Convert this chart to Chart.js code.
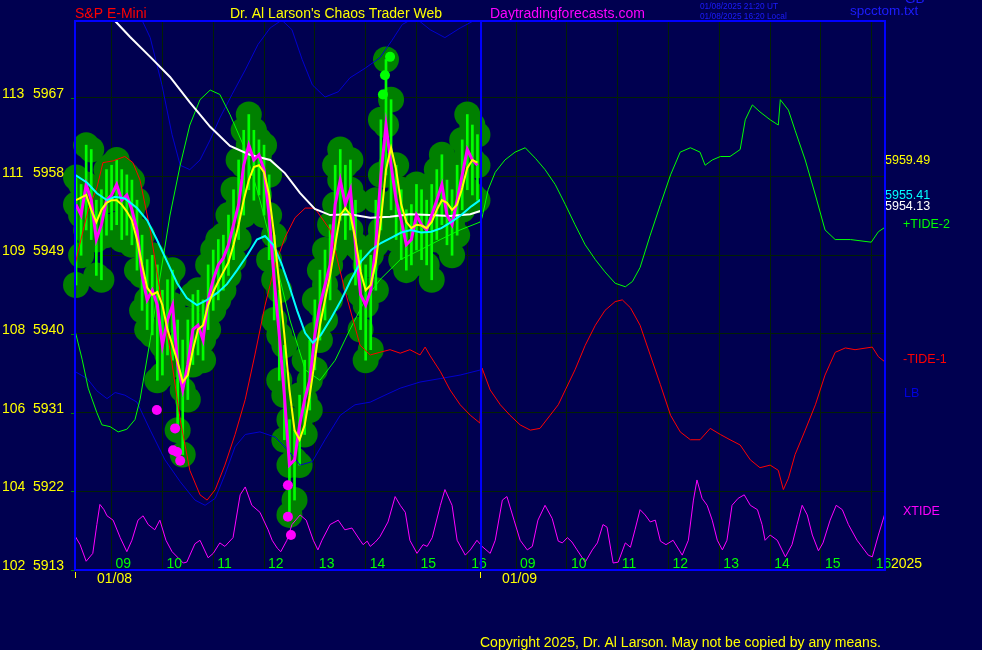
<!DOCTYPE html>
<html>
<head>
<meta charset="utf-8">
<script src="https://cdn.jsdelivr.net/npm/chart.js@4.4.1/dist/chart.umd.min.js"></script>
<style>
html, body { margin: 0; padding: 0; background: #000050; }
canvas { display: block; }
</style>
</head>
<body>
<canvas id="chart" width="982" height="650"></canvas>
<script>
// price axis and hour axis (day 2 hours are shifted onto one continuous axis)
const yTicks = [5913, 5922, 5931, 5940, 5949, 5958, 5967]
const yTickIndex = ["102", "104", "106", "108", "109", "111", "113"]
const dayHours = [9, 10, 11, 12, 13, 14, 15, 16]
const DAY2_SHIFT = 7.96

// 6 minute price bars, 01/08 from 08:18
const closes = [
    5954.8, 5953.6, 5957.1, 5955.3, 5950.8, 5952.5, 5955.3, 5955.9, 5957.1, 5955.3,
    5955.9, 5954.2, 5951.9, 5946.7, 5943.9, 5945.0, 5943.3, 5938.7, 5941.6, 5943.3,
    5936.5, 5933.6, 5936.5, 5940.5, 5941.0, 5939.3, 5943.9, 5946.2, 5947.9, 5948.7,
    5950.2, 5952.5, 5954.8, 5959.3, 5961.6, 5959.9, 5960.5, 5958.8, 5953.6, 5946.2,
    5939.9, 5933.0, 5925.0, 5925.6, 5929.6, 5932.5, 5934.7, 5939.9, 5943.3, 5945.6,
    5947.9, 5954.8, 5957.6, 5954.8, 5956.5, 5950.2, 5944.5, 5943.3, 5945.0, 5950.2,
    5958.2, 5963.9, 5959.3, 5955.3, 5953.0, 5950.2, 5950.8, 5953.6, 5952.5, 5951.9,
    5953.6, 5955.3, 5957.1, 5953.6, 5952.5, 5955.3, 5958.2, 5961.1, 5959.9, 5959.3
]
const highs = [
    5957.9, 5957.1, 5961.6, 5961.1, 5955.3, 5956.5, 5958.8, 5959.3, 5959.9, 5958.8,
    5958.2, 5957.6, 5955.3, 5951.3, 5948.5, 5949.0, 5947.9, 5945.0, 5946.2, 5947.3,
    5941.6, 5939.3, 5941.6, 5944.5, 5945.0, 5943.9, 5947.9, 5949.6, 5950.8, 5951.3,
    5953.6, 5956.5, 5959.9, 5963.3, 5965.1, 5963.3, 5962.2, 5961.6, 5958.2, 5951.3,
    5945.0, 5938.7, 5930.2, 5929.0, 5933.0, 5937.0, 5939.3, 5943.9, 5947.3, 5949.6,
    5952.5, 5959.3, 5961.1, 5959.3, 5959.9, 5955.3, 5949.6, 5947.9, 5949.0, 5955.3,
    5964.5, 5971.4, 5966.8, 5959.3, 5956.5, 5954.2, 5954.8, 5957.1, 5956.5, 5955.3,
    5957.1, 5958.8, 5960.5, 5957.6, 5956.5, 5959.3, 5962.2, 5965.1, 5963.9, 5962.8
]
const lows = [
    5945.6, 5949.0, 5951.9, 5950.8, 5946.7, 5946.2, 5951.3, 5951.9, 5952.5, 5950.8,
    5951.3, 5950.2, 5947.3, 5942.7, 5940.5, 5939.9, 5934.7, 5935.3, 5937.6, 5937.0,
    5929.0, 5926.2, 5932.5, 5936.5, 5937.6, 5937.0, 5940.5, 5942.7, 5943.9, 5945.0,
    5946.7, 5948.5, 5950.8, 5953.6, 5956.5, 5955.3, 5955.9, 5953.6, 5948.5, 5941.6,
    5934.7, 5927.9, 5919.3, 5921.0, 5925.0, 5928.5, 5931.3, 5935.9, 5939.3, 5941.6,
    5943.9, 5949.6, 5953.0, 5950.8, 5951.9, 5945.6, 5940.5, 5937.0, 5938.2, 5945.0,
    5951.9, 5958.2, 5954.2, 5950.8, 5948.5, 5947.3, 5947.9, 5949.6, 5948.5, 5947.9,
    5946.2, 5950.8, 5952.5, 5950.2, 5949.0, 5951.3, 5954.2, 5956.5, 5955.9, 5955.3
]
const yellowAvg = [
    5955.3, 5955.6, 5955.9, 5954.2, 5952.8, 5954.2, 5955.0, 5955.3, 5955.3, 5954.8,
    5954.0, 5953.0, 5950.8, 5947.9, 5945.3, 5944.5, 5944.8, 5943.3, 5940.5, 5938.7,
    5936.8, 5934.5, 5935.3, 5938.2, 5940.5, 5941.0, 5943.3, 5944.8, 5946.0, 5947.1,
    5948.2, 5950.2, 5952.5, 5955.3, 5957.6, 5959.1, 5959.3, 5958.5, 5955.9, 5951.3,
    5945.6, 5939.9, 5933.6, 5929.0, 5927.9, 5929.6, 5933.0, 5937.0, 5941.0, 5943.9,
    5946.7, 5950.2, 5953.6, 5954.4, 5953.6, 5950.8, 5947.1, 5945.0, 5945.6, 5948.2,
    5953.0, 5958.8, 5961.3, 5958.8, 5954.8, 5952.8, 5952.1, 5952.5, 5952.4, 5952.1,
    5952.8, 5954.2, 5955.3, 5955.0, 5954.2, 5954.8, 5956.7, 5959.0, 5959.9, 5959.6
]
const barTimes = closes.map((c, i) => 8.3 + i * 0.1)

const cyanTimes = [8.28, 8.52, 8.71, 8.91, 9.07, 9.26, 9.50, 9.70, 9.89, 10.09, 10.29, 10.48, 10.68, 10.88, 11.08, 11.27, 11.47, 11.67, 11.86, 12.02, 12.18, 12.34, 12.49, 12.65, 12.81, 12.96, 13.12, 13.32, 13.52, 13.71, 13.91, 14.11, 14.30, 14.50, 14.70, 14.89, 15.09, 15.29, 15.49, 15.68, 15.88, 16.08, 16.27]
const cyanAvg = [5958.2, 5957.3, 5956.1, 5955.3, 5955.7, 5955.5, 5954.4, 5953.0, 5950.8, 5948.3, 5945.8, 5944.1, 5943.3, 5943.9, 5944.7, 5945.7, 5947.3, 5949.0, 5950.8, 5951.2, 5950.2, 5948.1, 5945.6, 5942.7, 5940.1, 5939.0, 5939.9, 5941.8, 5943.9, 5946.2, 5948.3, 5949.6, 5950.4, 5951.0, 5951.6, 5951.9, 5951.6, 5951.7, 5952.1, 5952.8, 5953.6, 5954.6, 5955.4]

const whiteTimes = [8.87, 9.07, 9.36, 9.76, 10.15, 10.54, 10.94, 11.33, 11.72, 12.12, 12.41, 12.71, 13.00, 13.30, 13.69, 14.09, 14.48, 14.87, 15.27, 15.66, 16.06, 16.27]
const whiteAvg = [5977.3, 5975.8, 5974.0, 5971.7, 5969.4, 5966.5, 5963.7, 5961.5, 5960.5, 5959.9, 5958.4, 5956.1, 5954.3, 5953.6, 5953.7, 5953.3, 5953.4, 5953.7, 5953.6, 5953.5, 5953.7, 5954.1]

const tide1Times = [8.28, 8.38, 8.54, 8.71, 8.83, 9.03, 9.26, 9.42, 9.56, 9.76, 9.95, 10.15, 10.35, 10.54, 10.74, 10.88, 11.04, 11.23, 11.43, 11.63, 11.82, 12.02, 12.22, 12.41, 12.61, 12.81, 13.00, 13.30, 13.59, 13.89, 14.09, 14.28, 14.48, 14.68, 14.87, 15.07, 15.17, 15.27, 15.47, 15.66, 15.86, 16.06, 16.25,
    16.29, 16.45, 16.65, 16.84, 17.04, 17.24, 17.43, 17.63, 17.79, 17.93, 18.12, 18.32, 18.52, 18.71, 18.91, 19.05, 19.21, 19.40, 19.60, 19.80, 20.00, 20.19, 20.39, 20.58, 20.78, 20.98, 21.17, 21.37, 21.57, 21.76, 21.96, 22.12, 22.22, 22.32, 22.45, 22.65, 22.85, 23.04, 23.24, 23.44, 23.63, 23.97, 24.09, 24.22]
const tide1 = [5947.9, 5950.4, 5954.2, 5956.7, 5959.6, 5959.8, 5960.3, 5959.6, 5957.6, 5951.9, 5945.0, 5938.2, 5930.2, 5924.4, 5921.6, 5921.0, 5922.2, 5925.0, 5928.5, 5932.5, 5937.6, 5943.3, 5947.9, 5951.0, 5953.3, 5954.4, 5954.4, 5951.9, 5945.0, 5938.7, 5937.6, 5937.9, 5938.2, 5937.8, 5938.2, 5937.6, 5938.5, 5937.5, 5935.7, 5933.6, 5931.9, 5930.7, 5929.8,
    5936.1, 5933.6, 5931.9, 5930.7, 5929.6, 5929.0, 5929.2, 5930.7, 5931.9, 5933.6, 5935.9, 5938.7, 5941.0, 5942.7, 5943.7, 5943.9, 5943.0, 5941.0, 5937.6, 5934.2, 5930.7, 5928.8, 5927.9, 5927.9, 5929.2, 5928.5, 5927.9, 5927.3, 5925.6, 5924.7, 5925.0, 5924.4, 5922.2, 5923.5, 5926.2, 5929.0, 5931.9, 5935.3, 5937.9, 5938.4, 5938.2, 5938.5, 5937.4, 5936.8]

const tide2Times = [8.28, 8.42, 8.54, 8.71, 8.81, 8.97, 9.13, 9.30, 9.46, 9.56, 9.76, 9.95, 10.15, 10.35, 10.54, 10.74, 10.94, 11.13, 11.33, 11.63, 11.92, 12.22, 12.51, 12.81, 13.10, 13.40, 13.69, 13.99, 14.28, 14.68, 15.07, 15.47, 15.86, 16.25,
    16.29, 16.41, 16.55, 16.74, 16.94, 17.14, 17.34, 17.53, 17.73, 17.93, 18.12, 18.32, 18.52, 18.71, 18.91, 19.11, 19.25, 19.40, 19.60, 19.80, 20.00, 20.19, 20.39, 20.58, 20.68, 20.82, 20.98, 21.17, 21.37, 21.47, 21.61, 21.76, 21.96, 22.12, 22.16, 22.32, 22.45, 22.65, 22.85, 23.04, 23.24, 23.54, 23.95, 24.09, 24.22]
const tide2 = [5940.4, 5937.1, 5933.8, 5931.0, 5929.6, 5929.4, 5928.8, 5929.1, 5930.2, 5932.5, 5939.3, 5946.4, 5953.6, 5959.3, 5963.9, 5966.8, 5967.9, 5967.4, 5965.1, 5961.1, 5955.3, 5948.5, 5941.6, 5935.9, 5934.7, 5937.0, 5940.5, 5943.9, 5946.2, 5948.5, 5949.6, 5950.8, 5951.9, 5952.8,
    5953.3, 5956.5, 5958.5, 5959.9, 5960.8, 5961.3, 5960.1, 5958.8, 5957.1, 5954.8, 5952.5, 5950.2, 5948.5, 5947.1, 5945.8, 5945.4, 5946.0, 5947.6, 5951.3, 5954.8, 5958.2, 5960.8, 5961.3, 5960.8, 5959.3, 5959.9, 5960.3, 5960.3, 5961.1, 5964.5, 5966.2, 5965.4, 5964.5, 5963.9, 5966.8, 5965.6, 5963.3, 5959.9, 5955.9, 5951.9, 5950.8, 5950.8, 5950.5, 5951.7, 5952.2]

const upperTimes = [9.46, 9.76, 9.99, 10.19, 10.35, 10.54, 10.74, 10.94, 11.13, 11.37, 11.63, 11.88, 12.12, 12.35, 12.55, 12.75, 12.95, 13.20, 13.46, 13.69, 13.99, 14.28, 14.52, 14.72, 14.97, 15.27, 15.56, 15.86, 16.15, 16.27]
const upperBand = [5977.6, 5973.9, 5968.5, 5962.8, 5959.3, 5958.8, 5959.9, 5962.2, 5964.7, 5967.4, 5970.2, 5973.1, 5975.0, 5975.9, 5974.8, 5971.4, 5968.5, 5967.1, 5967.7, 5969.3, 5970.4, 5971.6, 5973.6, 5975.4, 5976.2, 5974.8, 5973.9, 5975.0, 5975.9, 5976.2]
const lowerTimes = [8.28, 8.52, 8.71, 8.91, 9.07, 9.26, 9.50, 9.76, 10.05, 10.35, 10.64, 10.84, 11.04, 11.23, 11.43, 11.63, 11.92, 12.22, 12.47, 12.71, 12.95, 13.20, 13.50, 13.79, 14.09, 14.38, 14.68, 15.07, 15.47, 15.86, 16.27]
const lowerBand = [5935.7, 5934.9, 5933.5, 5932.6, 5933.3, 5933.0, 5932.2, 5929.0, 5925.6, 5923.1, 5921.0, 5920.4, 5921.2, 5923.9, 5927.1, 5928.5, 5928.8, 5928.2, 5926.7, 5925.0, 5925.4, 5927.9, 5930.7, 5931.9, 5932.2, 5933.0, 5933.8, 5934.5, 5934.9, 5935.3, 5935.9]

const xtideTimes = [8.28, 8.38, 8.50, 8.63, 8.71, 8.77, 8.85, 8.91, 9.03, 9.17, 9.30, 9.40, 9.52, 9.62, 9.72, 9.85, 9.95, 10.07, 10.19, 10.41, 10.48, 10.64, 10.74, 10.90, 11.00, 11.13, 11.23, 11.39, 11.53, 11.63, 11.76, 11.92, 12.08, 12.16, 12.26, 12.33, 12.45, 12.55, 12.71, 12.83, 12.97, 13.06, 13.14, 13.30, 13.46, 13.59, 13.73, 13.89, 13.95, 14.03, 14.09, 14.19, 14.28, 14.44, 14.58, 14.68, 14.78, 14.87, 15.01, 15.13, 15.21, 15.31, 15.47, 15.56, 15.70, 15.80, 15.96, 16.06, 16.19,
    16.29, 16.45, 16.55, 16.69, 16.78, 16.92, 17.04, 17.18, 17.28, 17.39, 17.53, 17.67, 17.79, 17.87, 17.97, 18.06, 18.16, 18.32, 18.46, 18.56, 18.67, 18.75, 18.87, 18.97, 19.11, 19.21, 19.30, 19.40, 19.50, 19.60, 19.70, 19.80, 19.91, 20.05, 20.23, 20.35, 20.45, 20.52, 20.62, 20.72, 20.82, 20.92, 21.02, 21.11, 21.21, 21.33, 21.45, 21.57, 21.71, 21.80, 21.86, 21.96, 22.10, 22.26, 22.39, 22.49, 22.59, 22.69, 22.79, 22.91, 23.00, 23.14, 23.26, 23.38, 23.50, 23.67, 23.89, 23.97, 24.09, 24.22]
const xtide = [5916.9, 5915.9, 5914.0, 5914.9, 5918.2, 5920.5, 5919.9, 5919.2, 5918.7, 5916.7, 5915.1, 5916.4, 5918.7, 5919.2, 5918.2, 5917.6, 5918.7, 5916.4, 5915.1, 5913.8, 5913.9, 5916.0, 5916.4, 5914.4, 5914.9, 5916.1, 5915.7, 5916.7, 5921.6, 5922.5, 5920.4, 5919.6, 5917.6, 5916.4, 5915.5, 5915.1, 5916.4, 5918.2, 5919.3, 5918.7, 5916.4, 5915.3, 5916.4, 5918.2, 5918.7, 5917.6, 5917.8, 5916.4, 5915.9, 5916.3, 5915.7, 5916.2, 5916.8, 5918.5, 5921.4, 5920.4, 5919.6, 5916.4, 5914.9, 5915.9, 5915.7, 5916.7, 5920.4, 5922.2, 5920.4, 5916.4, 5914.7, 5915.3, 5916.4,
    5915.7, 5914.9, 5916.4, 5921.0, 5921.4, 5918.7, 5916.4, 5915.3, 5915.7, 5918.7, 5920.4, 5918.9, 5916.3, 5916.1, 5916.7, 5916.2, 5915.3, 5913.9, 5915.3, 5916.1, 5918.2, 5917.9, 5913.8, 5913.9, 5916.1, 5915.6, 5917.6, 5919.9, 5919.3, 5918.5, 5918.7, 5916.3, 5915.9, 5916.4, 5914.7, 5916.4, 5921.0, 5923.3, 5921.2, 5920.4, 5918.7, 5916.4, 5915.3, 5916.4, 5920.4, 5921.2, 5921.6, 5920.4, 5919.9, 5918.2, 5916.4, 5917.0, 5916.4, 5914.5, 5915.9, 5918.2, 5920.4, 5919.3, 5917.0, 5915.2, 5916.1, 5918.7, 5920.4, 5919.9, 5918.2, 5916.4, 5914.7, 5914.5, 5917.0, 5919.5]

// marker dots on the price bars
const lowDotTimes = [9.89, 10.25, 10.21, 10.29, 10.35, 12.47, 12.47, 12.53]
const lowDots = [5931.3, 5929.2, 5926.7, 5926.5, 5925.5, 5922.7, 5919.1, 5917.0]
const highDotTimes = [14.48, 14.38, 14.34]
const highDots = [5971.7, 5969.6, 5967.4]

const pts = (ts, vs) => ts.map((t, i) => ({ x: t, y: vs[i] }))

function line(data, color, width, order) {
    return {
        type: "line", data: data, borderColor: color, borderWidth: width,
        pointRadius: 0, tension: 0, fill: false, order: order
    }
}

function dots(data, color, radius, order, clip) {
    return {
        type: "line", data: data, showLine: false, pointRadius: radius,
        pointBackgroundColor: color, pointBorderWidth: 0, order: order, clip: clip
    }
}

const hourTicks = dayHours.concat(dayHours.map(h => h + DAY2_SHIFT))

const overlay = {
    id: "overlay",
    afterDraw(chart) {
        const ctx = chart.ctx
        const a = chart.chartArea
        const xs = chart.scales.x
        const ys = chart.scales.y
        const font = s => s + 'px "Liberation Sans", Arial, sans-serif'
        ctx.save()
        ctx.textAlign = "left"
        ctx.textBaseline = "alphabetic"

        // price labels on the left
        ctx.font = font(14)
        yTicks.forEach((v, i) => {
            const y = ys.getPixelForValue(v)
            ctx.fillStyle = "#ffff00"
            ctx.fillText(yTickIndex[i], 2, y)
            ctx.fillText(String(v), 33, y)
            ctx.fillStyle = "#008000"
            ctx.fillRect(a.left - 4, Math.round(y), 4, 1)
        })

        // hour labels
        ctx.fillStyle = "#00ff00"
        hourTicks.forEach(v => {
            const h = v > 16.5 ? v - DAY2_SHIFT : v
            ctx.fillText(String(Math.round(h)).padStart(2, "0"), xs.getPixelForValue(v) + 4, a.bottom - 2)
        })
        ctx.fillStyle = "#ffff00"
        ctx.fillText("2025", a.right + 6, a.bottom - 2)
        ctx.fillText("01/08", a.left + 22, a.bottom + 13)
        ctx.fillText("01/09", 502, a.bottom + 13)
        ctx.fillRect(a.left, a.bottom + 2, 1, 6)
        ctx.fillRect(480, a.bottom + 2, 1, 6)

        // titles
        ctx.font = font(14)
        ctx.fillStyle = "#ff0000"
        ctx.fillText("S&P E-Mini", 75, 18)
        ctx.fillStyle = "#ffff00"
        ctx.fillText("Dr. Al Larson's Chaos Trader Web", 230, 18)
        ctx.fillStyle = "#ff00ff"
        ctx.fillText("Daytradingforecasts.com", 490, 18)
        ctx.fillStyle = "#1c1cff"
        ctx.font = font(8.3)
        ctx.fillText("01/08/2025 21:20 UT", 700, 9)
        ctx.fillText("01/08/2025 16:20 Local", 700, 19)
        ctx.font = font(13.5)
        ctx.fillText("spcctom.txt", 850, 15)
        ctx.fillText("GB", 905, 3)

        // right side labels
        ctx.font = font(12.5)
        ctx.fillStyle = "#ffff00"
        ctx.fillText("5959.49", a.right, ys.getPixelForValue(5959.49))
        ctx.fillStyle = "#00ffff"
        ctx.fillText("5955.41", a.right, ys.getPixelForValue(5955.41))
        ctx.fillStyle = "#ffffff"
        ctx.fillText("5954.13", a.right, ys.getPixelForValue(5954.13))
        ctx.fillStyle = "#00ff00"
        ctx.fillText("+TIDE-2", 903, 228)
        ctx.fillStyle = "#ff0000"
        ctx.fillText("-TIDE-1", 903, 363)
        ctx.fillStyle = "#0000e0"
        ctx.fillText("LB", 904, 397)
        ctx.fillStyle = "#ff00ff"
        ctx.fillText("XTIDE", 903, 515)

        ctx.font = font(14)
        ctx.fillStyle = "#ffff00"
        ctx.fillText("Copyright 2025, Dr. Al Larson. May not be copied by any means.", 480, 647)

        // frame and day separator
        ctx.strokeStyle = "#0000ff"
        ctx.lineWidth = 2
        ctx.strokeRect(a.left, a.top, a.right - a.left, a.bottom - a.top)
        const sep = xs.getPixelForValue(16.27)
        ctx.beginPath()
        ctx.moveTo(sep, a.top)
        ctx.lineTo(sep, a.bottom)
        ctx.stroke()
        ctx.restore()
    }
}

new Chart(document.getElementById("chart"), {
    type: "line",
    data: {
        datasets: [
            dots(pts(highDotTimes, highDots), "#00ff00", 5, 1, true),
            dots(pts(lowDotTimes, lowDots), "#ff00ff", 5, 2, true),
            line(pts(barTimes, yellowAvg), "#ffff00", 2, 3),
            line(pts(cyanTimes, cyanAvg), "#00ffff", 2, 4),
            line(pts(barTimes, closes), "#ff00ff", 3, 5),
            line(pts(whiteTimes, whiteAvg), "#ffffff", 2, 6),
            line(pts(tide1Times, tide1), "#ff0000", 1, 7),
            line(pts(tide2Times, tide2), "#00ff00", 1, 7),
            line(pts(upperTimes, upperBand), "#0000d0", 1, 8),
            line(pts(lowerTimes, lowerBand), "#0000d0", 1, 8),
            line(pts(xtideTimes, xtide), "#ff00ff", 1, 8),
            {
                type: "bar",
                data: barTimes.map((t, i) => ({ x: t, y: [lows[i], highs[i]] })),
                backgroundColor: "#00ff00",
                barThickness: 2,
                order: 9
            },
            dots(pts(barTimes, highs).concat(pts(barTimes, lows), pts(barTimes, closes)), "#008000", 13, 10, false)
        ]
    },
    options: {
        responsive: false,
        devicePixelRatio: 1,
        animation: false,
        events: [],
        layout: { padding: { left: 75, right: 97, top: 21, bottom: 80 } },
        plugins: { legend: { display: false }, tooltip: { enabled: false } },
        scales: {
            x: {
                type: "linear", min: 8.28, max: 24.22, offset: false,
                afterBuildTicks: s => { s.ticks = hourTicks.map(v => ({ value: v })) },
                afterFit: s => { s.height = 0 },
                ticks: { display: false },
                border: { display: false },
                grid: { color: "#032003", drawTicks: false, offset: false }
            },
            y: {
                type: "linear", min: 5913, max: 5975.8,
                afterBuildTicks: s => { s.ticks = yTicks.map(v => ({ value: v })) },
                afterFit: s => { s.width = 0 },
                ticks: { display: false },
                border: { display: false },
                grid: { color: "#032003", drawTicks: false }
            }
        }
    },
    plugins: [overlay]
})
</script>
</body>
</html>
